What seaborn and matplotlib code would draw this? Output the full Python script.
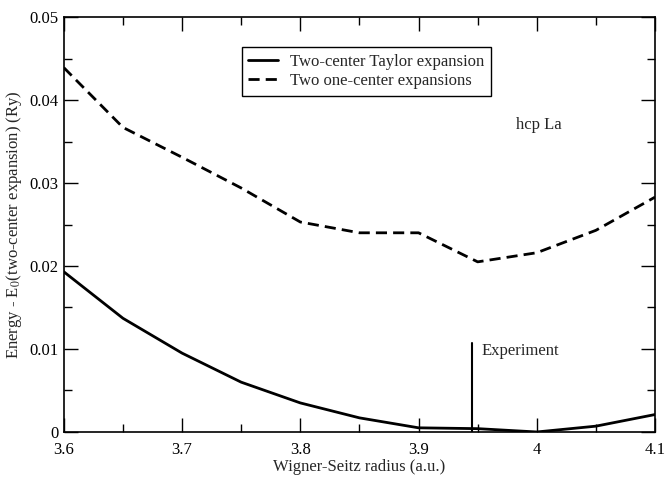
import numpy as np
import pandas as pd
import matplotlib
matplotlib.use("Agg")
import matplotlib.pyplot as plt
from matplotlib.ticker import MultipleLocator, FuncFormatter
import seaborn as sns

radius = [3.6, 3.65, 3.7, 3.75, 3.8, 3.85, 3.9, 3.95, 4.0, 4.05, 4.1]
taylor = [0.0193, 0.0137, 0.0095, 0.0060, 0.0035, 0.0017, 0.0005, 0.0004, 0.0, 0.0007, 0.0021]
one_center = [0.0439, 0.0367, 0.0331, 0.0294, 0.0253, 0.0240, 0.0240, 0.0205, 0.0216, 0.0243, 0.0283]
exp_radius = 3.945
exp_height = 0.0107

sns.set_style("ticks")
plt.rcParams["font.family"] = ["Liberation Serif", "DejaVu Serif"]
plt.rcParams["mathtext.fontset"] = "stix"

df = pd.DataFrame({
    "r": radius * 2,
    "E": taylor + one_center,
    "kind": ["Two-center Taylor expansion"] * len(radius) + ["Two one-center expansions"] * len(radius),
})

fig, ax = plt.subplots(figsize=(6.65, 4.87), dpi=100)
fig.subplots_adjust(left=0.096, right=0.985, top=0.965, bottom=0.113)

sns.lineplot(data=df, x="r", y="E", style="kind",
             dashes={"Two-center Taylor expansion": "", "Two one-center expansions": (4, 2.2)},
             color="black", linewidth=2, ax=ax)

ax.plot([exp_radius, exp_radius], [0, exp_height], color="black", lw=1.5)
ax.text(exp_radius + 0.008, exp_height - 0.0009, "Experiment", fontsize=12, va="center")
ax.text(3.982, 0.037, "hcp La", fontsize=12, va="center")

ax.set_xlim(3.6, 4.1)
ax.set_ylim(0, 0.05)
ax.xaxis.set_major_locator(MultipleLocator(0.1))
ax.xaxis.set_minor_locator(MultipleLocator(0.05))
ax.yaxis.set_major_locator(MultipleLocator(0.01))
ax.yaxis.set_minor_locator(MultipleLocator(0.005))
ax.xaxis.set_major_formatter(FuncFormatter(lambda v, p: "%g" % round(v, 3)))
ax.yaxis.set_major_formatter(FuncFormatter(lambda v, p: "%g" % round(v, 4)))
ax.tick_params(which="both", direction="in", top=True, right=True, width=1, labelsize=12, colors="black")
ax.tick_params(which="major", length=10, pad=4)
ax.tick_params(axis="x", which="major", pad=7)
ax.tick_params(which="minor", length=6)
for s in ax.spines.values():
    s.set_linewidth(1.2)
    s.set_color("black")

ax.set_xlabel("Wigner-Seitz radius (a.u.)", fontsize=12, labelpad=1)
ax.set_ylabel("Energy - E$_0$(two-center expansion) (Ry)", fontsize=12, labelpad=4)

leg = ax.legend(loc="upper left", bbox_to_anchor=(0.301, 0.928), borderaxespad=0, fontsize=12,
                frameon=True, fancybox=False, edgecolor="black", framealpha=1,
                handlelength=1.8, handletextpad=0.7, borderpad=0.4, labelspacing=0.2)
leg.get_frame().set_linewidth(1)

fig.savefig("out.png", dpi=100)
